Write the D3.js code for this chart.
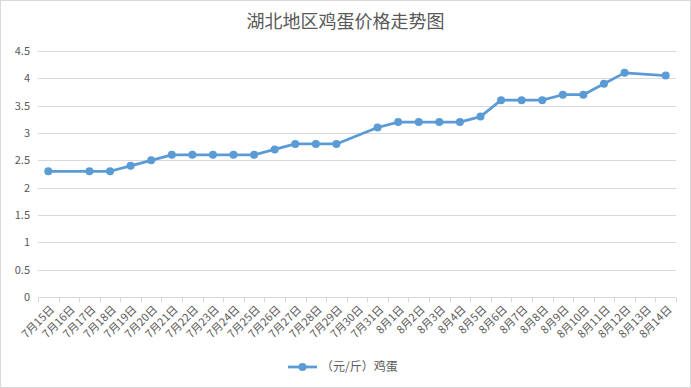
<!DOCTYPE html>
<html>
<head>
<meta charset="UTF-8">
<script src="https://d3js.org/d3.v7.min.js"></script>
<style>
body { margin: 0; background: #fff; font-family: "Microsoft YaHei", "Noto Sans CJK SC", sans-serif; }
</style>
</head>
<body>
<div id="chart"></div>
<script>
// dates on the category axis
var dates = ["7月15日","7月16日","7月17日","7月18日","7月19日","7月20日","7月21日","7月22日",
  "7月23日","7月24日","7月25日","7月26日","7月27日","7月28日","7月29日","7月30日","7月31日",
  "8月1日","8月2日","8月3日","8月4日","8月5日","8月6日","8月7日","8月8日","8月9日","8月10日",
  "8月11日","8月12日","8月13日","8月14日"];
// egg price, null where no quote
var prices = [2.3,null,2.3,2.3,2.4,2.5,2.6,2.6,2.6,2.6,2.6,2.7,2.8,2.8,2.8,null,3.1,
  3.2,3.2,3.2,3.2,3.3,3.6,3.6,3.6,3.7,3.7,3.9,4.1,null,4.05];
var yTicks = [0,0.5,1,1.5,2,2.5,3,3.5,4,4.5];
var seriesName = "（元/斤）鸡蛋";
var title = "湖北地区鸡蛋价格走势图";

var W = 691, H = 388;
var margin = {top: 51, right: 15, bottom: 91, left: 38};
var width = W - margin.left - margin.right,
    height = H - margin.top - margin.bottom;

var svg = d3.select("#chart").append("svg")
  .attr("width", W).attr("height", H);

svg.append("rect")
  .attr("x", 0.5).attr("y", 0.5).attr("width", W - 1).attr("height", H - 1)
  .attr("fill", "#fff").attr("stroke", "#d9d9d9");

svg.append("text")
  .attr("x", W / 2).attr("y", 28)
  .attr("text-anchor", "middle")
  .attr("font-size", 18)
  .attr("fill", "#595959")
  .text(title);

var g = svg.append("g").attr("transform", "translate(" + margin.left + "," + margin.top + ")");

var x = d3.scaleBand().domain(dates).range([0, width]);
var y = d3.scaleLinear().domain([0, 4.5]).range([height, 0]);

// gridlines
g.selectAll(".grid").data(yTicks.slice(1)).enter().append("line")
  .attr("x1", 0).attr("x2", width)
  .attr("y1", function(d) { return Math.round(y(d)) + 0.5; })
  .attr("y2", function(d) { return Math.round(y(d)) + 0.5; })
  .attr("stroke", "#d9d9d9");

// y labels
g.selectAll(".ylab").data(yTicks).enter().append("text")
  .attr("x", -8).attr("y", function(d) { return y(d); })
  .attr("dy", "0.35em")
  .attr("text-anchor", "end")
  .attr("font-size", 11)
  .attr("fill", "#595959")
  .text(function(d) { return d; });

// x axis
var xAxis = g.append("g")
  .attr("transform", "translate(0," + (Math.round(height) + 0.5) + ")");
xAxis.append("line").attr("x1", 0).attr("x2", width).attr("stroke", "#d9d9d9");
xAxis.selectAll(".tick").data(d3.range(dates.length + 1)).enter().append("line")
  .attr("x1", function(i) { return Math.round(i * x.step()) + 0.5; })
  .attr("x2", function(i) { return Math.round(i * x.step()) + 0.5; })
  .attr("y1", 0).attr("y2", 5)
  .attr("stroke", "#d9d9d9");
xAxis.selectAll(".xlab").data(dates).enter().append("text")
  .attr("transform", function(d) {
    return "translate(" + (x(d) + x.bandwidth() / 2 + 4) + ",10) rotate(-45)";
  })
  .attr("text-anchor", "end")
  .attr("dy", "0.35em")
  .attr("font-size", 11)
  .attr("fill", "#595959")
  .text(function(d) { return d; });

// line + markers
var pts = dates.map(function(d, i) { return {d: d, v: prices[i]}; })
  .filter(function(p) { return p.v != null; });
var cx = function(p) { return x(p.d) + x.bandwidth() / 2; };

g.append("path").datum(pts)
  .attr("fill", "none")
  .attr("stroke", "#5b9bd5")
  .attr("stroke-width", 2.75)
  .attr("stroke-linejoin", "round")
  .attr("d", d3.line().x(cx).y(function(p) { return y(p.v); }));

g.selectAll(".pt").data(pts).enter().append("circle")
  .attr("cx", cx).attr("cy", function(p) { return y(p.v); })
  .attr("r", 4)
  .attr("fill", "#5b9bd5");

// legend
var lg = svg.append("g").attr("transform", "translate(288,367)");
lg.append("line").attr("x1", 0).attr("x2", 29).attr("stroke", "#5b9bd5").attr("stroke-width", 2.75);
lg.append("circle").attr("cx", 14.5).attr("r", 4).attr("fill", "#5b9bd5");
lg.append("text").attr("x", 33).attr("dy", "0.35em")
  .attr("font-size", 12).attr("fill", "#595959")
  .text(seriesName);
</script>
</body>
</html>
